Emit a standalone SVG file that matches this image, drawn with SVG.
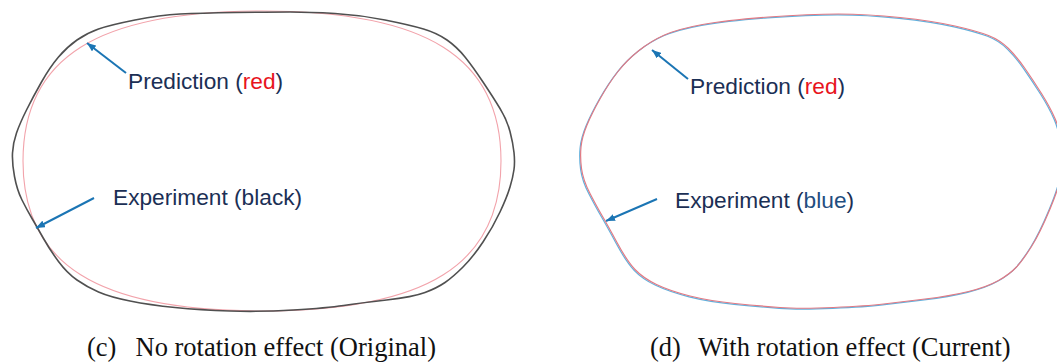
<svg xmlns="http://www.w3.org/2000/svg" width="1057" height="362" viewBox="0 0 1057 362">
<defs>
<style>
.lbl{font-family:"Liberation Sans",Arial,sans-serif;font-size:22.7px;fill:#1b2f55}
.red{fill:#e8141c}
.blu{fill:#1f4e80}
.cap{font-family:"Liberation Serif","Times New Roman",serif;font-size:26.5px;fill:#111}
.arrow{stroke:#1b75b4;stroke-width:2;fill:none}
.exp-black{fill:none;stroke:#505050;stroke-width:1.6;stroke-linejoin:round}
.pred-left{fill:none;stroke:#f2a3ab;stroke-width:1.1}
.pred-right{fill:none;stroke:#e27a84;stroke-width:1.2;stroke-linejoin:round}
.exp-blue{fill:none;stroke:#62b0dc;stroke-width:1.2;stroke-linejoin:round}
</style>
<marker id="ah" viewBox="0 0 10 8" refX="10" refY="4" markerWidth="9" markerHeight="7.5" markerUnits="userSpaceOnUse" orient="auto">
<path d="M0,0 L10,4 L0,8 z" fill="#1b75b4"/>
</marker>
<path id="shape-d" d="M581,147 Q582,137 587,125 Q592,113 600.5,98 Q609,83 618,71.5 Q627,60 639,50.5 Q651,41 664.5,35 Q678,29 702.5,24.5 Q727,20 768.5,17 Q810,14 838.5,14 Q867,14 900,17.5 Q933,21 955,26 Q977,31 988.5,35.5 Q1000,40 1008.5,48.5 Q1017,57 1025,68.5 Q1033,80 1041.5,93.5 Q1050,107 1055,118.5 Q1060,130 1061.5,145 Q1063,160 1061.5,172.5 Q1060,185 1050,209 Q1040,233 1031.5,246.5 Q1023,260 1016.5,267 Q1010,274 998.5,280.5 Q987,287 968.5,291.5 Q950,296 925,299 Q900,302 883.5,304 Q867,306 833.5,307.5 Q800,309 780,307.5 Q760,306 735,303.5 Q710,301 690,296 Q670,291 656.5,284.5 Q643,278 635,269.5 Q627,261 617,242.5 Q607,224 602,215.5 Q597,207 590,193.5 Q583,180 581.5,168.5 Q580,157 581,147 Z"/>
</defs>
<rect width="1057" height="362" fill="#fff"/>

<g id="panel-c">
<path class="pred-left" d="M501,161 C501,264.5 426.9,311 262,311 C97.1,311 23,264.5 23,161 C23,57.5 97.1,11 262,11 C426.9,11 501,57.5 501,161 Z"/>
<path class="exp-black" d="M235,12.5 Q270,12 290,12 Q310,12 335,13.5 Q360,15 385,20 Q410,25 423.5,29 Q437,33 447,40 Q457,47 465,57 Q473,67 483,82 Q493,97 500,108.5 Q507,120 510,131.5 Q513,143 514,152.5 Q515,162 514,169.5 Q513,177 510,187 Q507,197 500,212 Q493,227 483,242 Q473,257 463,267 Q453,277 445,282.5 Q437,288 425,292.5 Q413,297 386.5,300 Q360,303 343.5,305.5 Q327,308 293.5,310 Q260,312 230,311 Q200,310 175,307.5 Q150,305 130,301 Q110,297 98.5,292 Q87,287 77,280 Q67,273 58.5,261.5 Q50,250 43.5,238.5 Q37,227 32,218.5 Q27,210 22,200 Q17,190 14.5,176.5 Q12,163 12.5,153 Q13,143 16.5,133 Q20,123 26.5,110 Q33,97 41.5,82 Q50,67 58.5,57 Q67,47 77,40 Q87,33 98.5,29 Q110,25 135,20 Q160,15 180,14 Q200,13 235,12.5 Z"/>
</g>

<g id="panel-d">
<use href="#shape-d" class="exp-blue" transform="translate(-0.9,0.8)"/>
<use href="#shape-d" class="pred-right"/>
</g>

<g id="connectors">
<line class="arrow" x1="126" y1="73" x2="87" y2="43" marker-end="url(#ah)"/>
<line class="arrow" x1="94" y1="198" x2="36" y2="228" marker-end="url(#ah)"/>
<line class="arrow" x1="688" y1="79" x2="652" y2="50" marker-end="url(#ah)"/>
<line class="arrow" x1="657" y1="199" x2="606" y2="221" marker-end="url(#ah)"/>
</g>

<g id="label-pred-c"><text class="lbl" x="128" y="89">Prediction (<tspan class="red">red</tspan>)</text></g>
<g id="label-exp-c"><text class="lbl" x="113" y="205">Experiment (black)</text></g>
<g id="label-pred-d"><text class="lbl" x="690" y="93.5">Prediction (<tspan class="red">red</tspan>)</text></g>
<g id="label-exp-d"><text class="lbl" x="675" y="208">Experiment (<tspan class="blu">blue</tspan>)</text></g>

<g id="caption-c"><text class="cap" y="356"><tspan x="87">(c)</tspan><tspan x="135.5">No rotation effect (Original)</tspan></text></g>
<g id="caption-d"><text class="cap" y="356"><tspan x="650">(d)</tspan><tspan x="698">With rotation effect (Current)</tspan></text></g>
</svg>
